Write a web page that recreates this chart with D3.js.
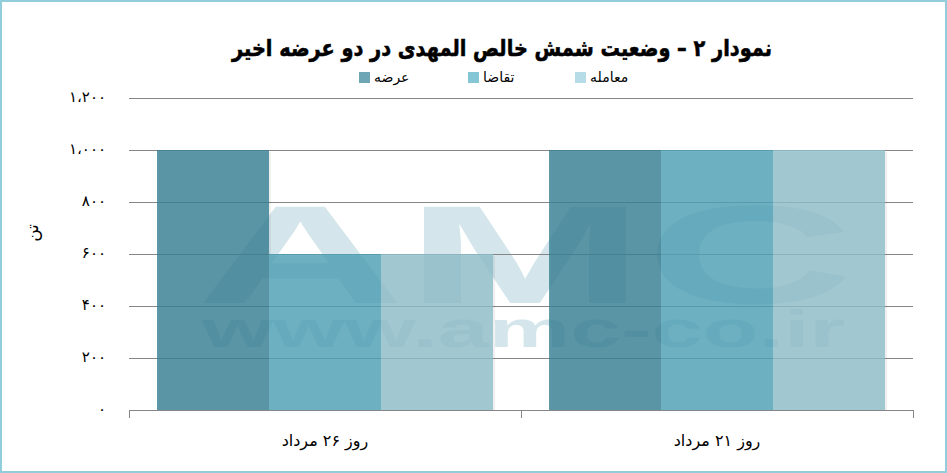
<!DOCTYPE html>
<html>
<head>
<meta charset="utf-8">
<script src="https://cdn.jsdelivr.net/npm/d3@7/dist/d3.min.js"></script>
<style>
  html,body{margin:0;padding:0;background:#fff;}
  svg{display:block;}
  .fa{font-family:"DejaVu Sans",sans-serif;}
</style>
</head>
<body>
<svg id="chart" width="947" height="473"></svg>
<script>
// ---- data ----
const categories = ["روز ۲۶ مرداد", "روز ۲۱ مرداد"];
const seriesNames = ["عرضه", "تقاضا", "معامله"];
const arzaValues = [1000, 1000];
const taghazaValues = [600, 1000];
const moameleValues = [600, 1000];
const yTickValues = [0, 200, 400, 600, 800, 1000, 1200];
const yTickLabels = ["۰", "۲۰۰", "۴۰۰", "۶۰۰", "۸۰۰", "۱،۰۰۰", "۱،۲۰۰"];
const titleText = "نمودار ۲ – وضعیت شمش خالص المهدی در دو عرضه اخیر";
const yAxisTitle = "تن";

// ---- styles ----
const barColors = ["#388094", "#4fa1b6", "#8fbdc9"];
const legendColors = ["#6ea6b6", "#84c5d6", "#b5dce7"];
const seriesValues = [arzaValues, taghazaValues, moameleValues];

const svg = d3.select("#chart");
const W = 947, H = 473;
const plot = {left: 129, right: 913, top: 98, bottom: 410};

// border
svg.append("rect").attr("x", 1).attr("y", 1).attr("width", W - 2).attr("height", H - 2)
  .attr("fill", "#fff").attr("stroke", "#92cddc").attr("stroke-width", 2);

const x0 = d3.scaleBand().domain(categories).range([plot.left, plot.right])
  .paddingInner(0.143).paddingOuter(0.0714);
const x1 = d3.scaleBand().domain(seriesNames).range([0, x0.bandwidth()]);
const y = d3.scaleLinear().domain([0, 1200]).range([plot.bottom, plot.top]);

// watermark (behind the semi-transparent bars)
const wm = svg.append("g").attr("fill", "#d4e6eb")
  .attr("font-family", "Liberation Sans, Arial, sans-serif").attr("font-weight", "bold");
wm.append("text").attr("x", 196).attr("y", 303).attr("font-size", 140)
  .attr("textLength", 658).attr("lengthAdjust", "spacingAndGlyphs").text("AMC");
wm.append("text").attr("x", 202).attr("y", 347).attr("font-size", 52)
  .attr("textLength", 643).attr("lengthAdjust", "spacingAndGlyphs").text("www.amc-co.ir");

// gridlines + y labels
const yAxis = d3.axisLeft(y).tickValues(yTickValues)
  .tickFormat((d, i) => yTickLabels[i])
  .tickSize(-(plot.right - plot.left)).tickPadding(23);
const gy = svg.append("g").attr("transform", `translate(${plot.left},0)`).call(yAxis);
gy.select(".domain").remove();
gy.selectAll(".tick line").attr("stroke", "#868686").attr("stroke-width", 1);
gy.selectAll(".tick text").attr("class", "fa").attr("font-size", 15).attr("fill", "#000")
  .attr("letter-spacing", 1.6).attr("dy", "0.25em");

// bars
const rows = categories.map((c, i) => ({cat: c, vals: seriesNames.map((s, j) => ({s, j, v: seriesValues[j][i]}))}));
const groups = svg.append("g").selectAll("g").data(rows).join("g")
  .attr("transform", d => `translate(${x0(d.cat)},0)`);
groups.selectAll("rect.sh").data(d => d.vals).join("rect").attr("class", "sh")
  .attr("x", d => x1(d.s) + 2).attr("y", d => y(d.v) + 2)
  .attr("width", x1.bandwidth()).attr("height", d => plot.bottom - y(d.v) - 2)
  .attr("fill", "#000").attr("opacity", 0.06);
groups.selectAll("rect.bar").data(d => d.vals).join("rect").attr("class", "bar")
  .attr("x", d => x1(d.s)).attr("y", d => y(d.v))
  .attr("width", x1.bandwidth()).attr("height", d => plot.bottom - y(d.v))
  .attr("fill", d => barColors[d.j]).attr("opacity", 0.82);

// bottom axis
svg.append("line").attr("x1", plot.left).attr("x2", plot.right)
  .attr("y1", plot.bottom + 0.5).attr("y2", plot.bottom + 0.5).attr("stroke", "#868686");
const bounds = categories.map(c => x0(c) - x0.step() * x0.paddingOuter()).concat([plot.right]);
svg.selectAll("line.xt").data(bounds).join("line").attr("class", "xt")
  .attr("x1", d => Math.round(d) + 0.5).attr("x2", d => Math.round(d) + 0.5)
  .attr("y1", plot.bottom).attr("y2", plot.bottom + 8).attr("stroke", "#868686");
svg.selectAll("text.xl").data(categories).join("text").attr("class", "xl fa")
  .attr("x", d => x0(d) + x0.bandwidth() / 2).attr("y", 446)
  .attr("text-anchor", "middle").attr("direction", "rtl").attr("font-size", 16).attr("fill", "#000")
  .text(d => d);

// title
svg.append("text").attr("class", "fa").attr("x", 502).attr("y", 56)
  .attr("text-anchor", "middle").attr("direction", "rtl").attr("font-weight", "bold")
  .attr("font-size", 23).attr("textLength", 540).attr("lengthAdjust", "spacingAndGlyphs")
  .attr("fill", "#000").attr("stroke", "#000").attr("stroke-width", 0.6)
  .text(titleText);

// legend
const legendX = [359, 468, 575];
const lg = svg.append("g").selectAll("g").data(seriesNames).join("g")
  .attr("transform", (d, i) => `translate(${legendX[i]},72)`);
lg.append("rect").attr("width", 11).attr("height", 11).attr("fill", (d, i) => legendColors[i]);
lg.append("text").attr("class", "fa").attr("x", 15).attr("y", 10).attr("font-size", 14)
  .attr("fill", "#000").text(d => d);

// y axis title
svg.append("text").attr("class", "fa").attr("transform", "translate(38,233) rotate(-90)")
  .attr("text-anchor", "middle").attr("font-size", 17).attr("fill", "#000").text(yAxisTitle);
</script>
</body>
</html>
